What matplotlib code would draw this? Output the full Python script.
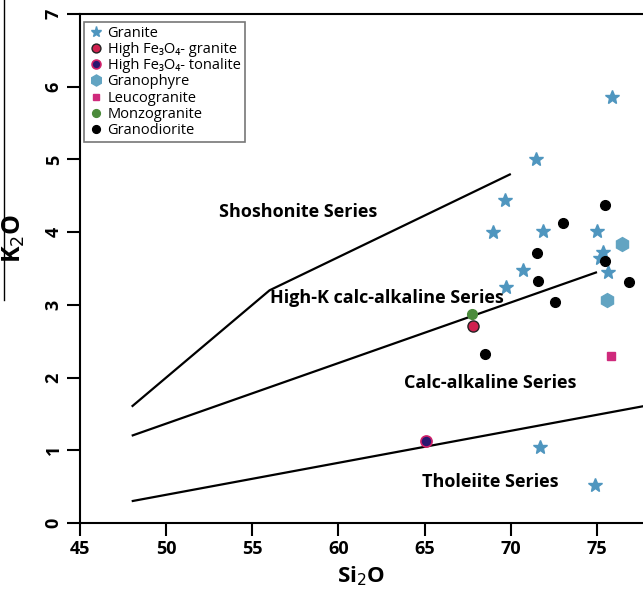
import numpy as np
import matplotlib
matplotlib.use('Agg')
import matplotlib.pyplot as plt
from matplotlib.lines import Line2D

plt.rcParams['font.family'] = ['Open Sans', 'DejaVu Sans']

# sample data (SiO2, K2O)
granite_x = [75.86, 71.47, 69.67, 68.95, 71.85, 75.02, 75.37, 75.18, 75.63, 70.73, 69.72, 71.7, 74.89]
granite_y = [5.86, 5.00, 4.44, 4.00, 4.02, 4.02, 3.73, 3.65, 3.45, 3.48, 3.25, 1.05, 0.52]
fe_granite_x = [67.79]
fe_granite_y = [2.71]
fe_tonalite_x = [65.08]
fe_tonalite_y = [1.13]
granophyre_x = [76.44, 75.6]
granophyre_y = [3.84, 3.06]
leuco_x = [75.8]
leuco_y = [2.29]
monzo_x = [67.73]
monzo_y = [2.88]
grano_x = [75.47, 73.05, 71.54, 75.49, 71.56, 76.88, 72.59, 68.5]
grano_y = [4.38, 4.12, 3.71, 3.61, 3.33, 3.31, 3.04, 2.33]

# series boundaries
shosh_x = [48, 56, 70]
shosh_y = [1.6, 3.2, 4.8]
highk_x = [48, 75]
highk_y = [1.2, 3.45]
thol_x = [48, 78]
thol_y = [0.3, 1.62]

series_names = ['Shoshonite Series', 'High-K calc-alkaline Series', 'Calc-alkaline Series', 'Tholeiite Series']
series_pos = [(57.65, 4.28), (62.8, 3.1), (68.8, 1.93), (68.8, 0.56)]

fig = plt.figure(figsize=(6.43, 5.98), dpi=100)
ax = fig.add_axes([80/643, 75/598, 1 - 80/643, 1 - 75/598 - 14/598])

for bx, by in [(shosh_x, shosh_y), (highk_x, highk_y), (thol_x, thol_y)]:
    ax.plot(bx, by, color='black', lw=1.6, solid_capstyle='butt')

for name, (tx, ty) in zip(series_names, series_pos):
    ax.text(tx, ty, name, ha='center', va='center', fontsize=13, fontweight='bold')

ax.plot(granite_x, granite_y, '*', ms=10, color='#4f96bf', mec='#4f96bf', ls='none', label='Granite')
ax.plot(fe_granite_x, fe_granite_y, 'o', ms=8, color='#d0214f', mec='#222222', mew=1, ls='none', label='High Fe\u2083O\u2084- granite')
ax.plot(fe_tonalite_x, fe_tonalite_y, 'o', ms=8, color='#2a1670', mec='#d0216a', mew=1.2, ls='none', label='High Fe\u2083O\u2084- tonalite')
ax.plot(granophyre_x, granophyre_y, 'h', ms=10, color='#62a4c2', mec='#62a4c2', ls='none', label='Granophyre')
ax.plot(leuco_x, leuco_y, 's', ms=6, color='#cf2a7c', mec='#cf2a7c', ls='none', label='Leucogranite')
ax.plot(monzo_x, monzo_y, 'o', ms=7, color='#4b8b3b', mec='#4b8b3b', ls='none', label='Monzogranite')
ax.plot(grano_x, grano_y, 'o', ms=7, color='black', ls='none', label='Granodiorite')

ax.set_xlim(45, 77.67)
ax.set_ylim(0, 7)
ax.set_xticks([45, 50, 55, 60, 65, 70, 75])
ax.set_yticks(range(8))
for lab in ax.get_yticklabels():
    lab.set_rotation(90)
    lab.set_va('center')
ax.tick_params(direction='out', length=9.5, width=1.5, labelsize=13, pad=3)
for lab in ax.get_xticklabels() + ax.get_yticklabels():
    lab.set_fontweight('bold')
ax.spines['right'].set_visible(False)
for s in ['left', 'bottom', 'top']:
    ax.spines[s].set_linewidth(1.5)

ax.set_xlabel('Si$_2$O', fontsize=16, fontweight='bold', labelpad=4)
fig.text(14/643, 1 - 238/598, 'K$_2$O', rotation=90, fontsize=18, fontweight='bold', ha='center', va='center')

leg = ax.legend(loc='upper left', bbox_to_anchor=(0.005, 0.988), fontsize=10.5, frameon=True, fancybox=False,
                edgecolor='#555555', handletextpad=0.3, labelspacing=0.08, borderpad=0.3,
                handlelength=1.0, borderaxespad=0.1, markerscale=0.8)
leg.get_frame().set_linewidth(1.2)

# stray vertical line at the left edge of the source image
fig.add_artist(Line2D([4/643, 4/643], [1, 1 - 300/598], color='black', lw=1))

fig.savefig('out.png', dpi=100)
